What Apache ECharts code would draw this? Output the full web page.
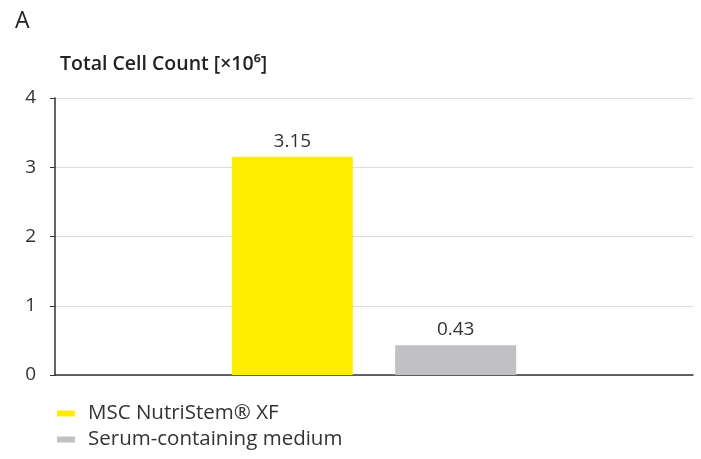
<!DOCTYPE html>
<html lang="en">
<head>
    <meta charset="UTF-8">
    <title>Total Cell Count</title>
    <script src="https://cdn.jsdelivr.net/npm/echarts@6/dist/echarts.min.js"></script>
</head>
<body style="margin:0;background:#fff;">
    <div id="main" style="width:701px;height:459px;"></div>
</body>
<script type="text/javascript">
    // data
    var categories = [''];
    var seriesNames = ['MSC NutriStem\u00ae XF', 'Serum-containing medium'];
    var nutriStem = [3.15];
    var serum = [0.43];
    var yTicks = [0, 1, 2, 3, 4];

    var font = 'Open Sans';
    var myChart = echarts.init(document.getElementById('main'));

    option = {
        animation: false,
        textStyle: { fontFamily: font },
        title: [
            { text: 'A', left: 10, top: 5, textStyle: { fontSize: 23, fontWeight: 'normal', color: '#222', fontFamily: font } },
            { text: 'Total Cell Count [\u00d710\u2076]', left: 55, top: 49, textStyle: { fontSize: 19.5, fontWeight: 600, color: '#222', fontFamily: font } }
        ],
        legend: {
            orient: 'vertical',
            left: 52,
            top: 398,
            itemWidth: 18,
            itemHeight: 6,
            itemGap: 5,
            icon: 'rect',
            textStyle: { fontSize: 20.5, color: '#333', fontFamily: font, padding: [0, 0, 0, 8] },
            data: seriesNames
        },
        grid: { left: 55, right: 8, top: 98, bottom: 84, containLabel: false },
        xAxis: {
            type: 'category',
            data: categories,
            axisLine: { lineStyle: { color: '#333', width: 1.5 } },
            axisTick: { show: false },
            axisLabel: { show: false }
        },
        yAxis: {
            type: 'value',
            min: yTicks[0],
            max: yTicks[yTicks.length - 1],
            interval: 1,
            axisLine: { show: true, lineStyle: { color: '#333', width: 1.5 } },
            axisTick: { show: true, length: 5, lineStyle: { color: '#333' } },
            axisLabel: { fontSize: 19, color: '#333', margin: 19, fontFamily: font },
            splitLine: { lineStyle: { color: '#dcdcdc', width: 1 } }
        },
        series: [
            {
                name: seriesNames[0],
                type: 'bar',
                data: nutriStem,
                barWidth: 121,
                barGap: '35%',
                itemStyle: { color: '#ffed00' },
                label: { show: true, position: 'top', distance: 6, fontSize: 19, color: '#333', fontFamily: font }
            },
            {
                name: seriesNames[1],
                type: 'bar',
                data: serum,
                barWidth: 121,
                itemStyle: { color: '#c1c1c4' },
                label: { show: true, position: 'top', distance: 6, fontSize: 19, color: '#333', fontFamily: font }
            }
        ]
    };
    myChart.setOption(option);
</script>
</html>
